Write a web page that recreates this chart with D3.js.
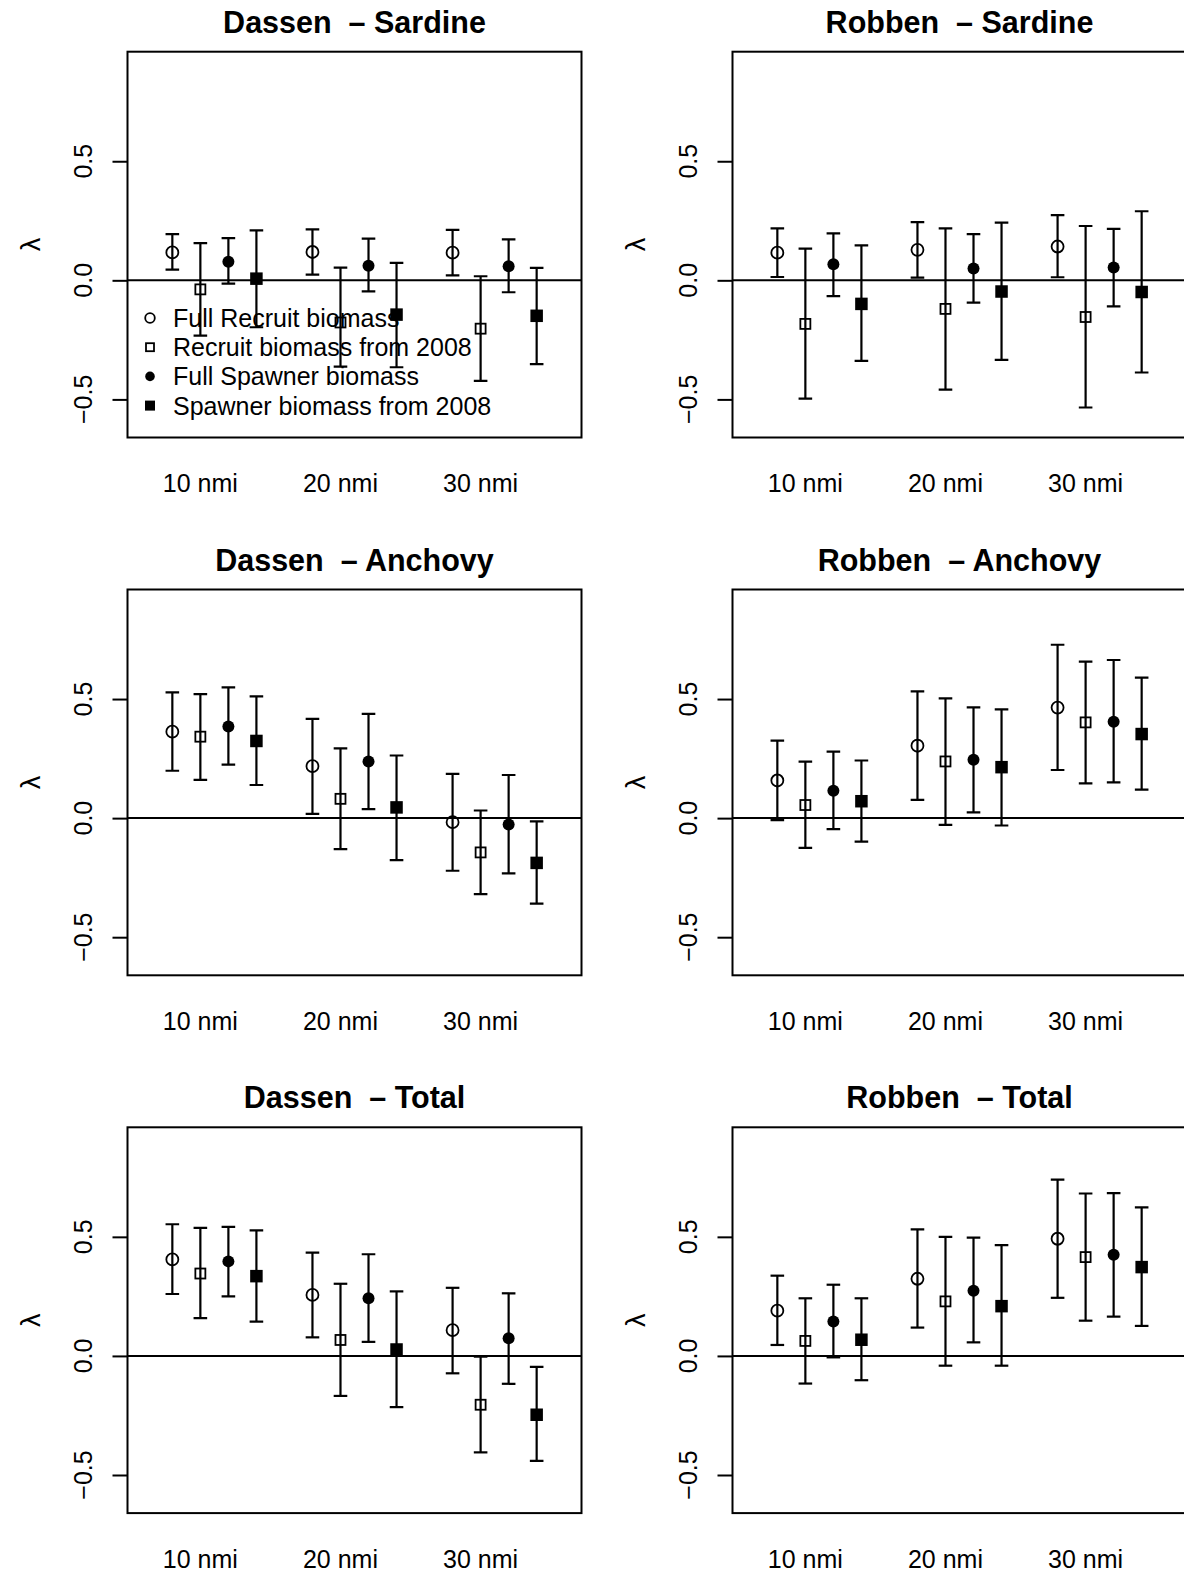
<!DOCTYPE html>
<html>
<head>
<meta charset="utf-8">
<script src="https://cdn.jsdelivr.net/npm/d3@7"></script>
<style>
  html, body { margin: 0; padding: 0; background: #fff; }
  svg { display: block; font-family: "Liberation Sans", Arial, Helvetica, sans-serif; }
  text { white-space: pre; }
</style>
</head>
<body>
<svg id="chart" width="1184" height="1573"></svg>
<script>
// ---------- data ----------
const groupLabels = ["10 nmi", "20 nmi", "30 nmi"];
const seriesNames = ["Full Recruit biomass", "Recruit biomass from 2008", "Full Spawner biomass", "Spawner biomass from 2008"];
const seriesShapes = ["openCircle", "openSquare", "filledCircle", "filledSquare"];
const yTickValues = [-0.5, 0, 0.5];

const panelTitles = ["Dassen  \u2013 Sardine", "Robben  \u2013 Sardine",
                     "Dassen  \u2013 Anchovy", "Robben  \u2013 Anchovy",
                     "Dassen  \u2013 Total", "Robben  \u2013 Total"];

// values ordered: 10 nmi (4 series), 20 nmi (4 series), 30 nmi (4 series)
const dassenSardineEst = [0.117, -0.038, 0.078, 0.007,  0.119, -0.177, 0.061, -0.144,  0.116, -0.203, 0.059, -0.149];
const dassenSardineLo  = [0.045, -0.232, -0.014, -0.197, 0.024, -0.362, -0.046, -0.365, 0.021, -0.422, -0.050, -0.352];
const dassenSardineHi  = [0.194, 0.156, 0.177, 0.210,  0.214, 0.053, 0.175, 0.073,  0.212, 0.017, 0.172, 0.052];

const robbenSardineEst = [0.116, -0.183, 0.067, -0.099,  0.128, -0.120, 0.050, -0.047,  0.142, -0.154, 0.054, -0.049];
const robbenSardineLo  = [0.014, -0.497, -0.066, -0.338, 0.011, -0.459, -0.094, -0.334, 0.013, -0.534, -0.109, -0.387];
const robbenSardineHi  = [0.218, 0.133, 0.197, 0.147,  0.244, 0.218, 0.194, 0.242,  0.274, 0.228, 0.216, 0.290];

const dassenAnchovyEst = [0.363, 0.342, 0.385, 0.324,  0.218, 0.081, 0.238, 0.045,  -0.017, -0.144, -0.027, -0.188];
const dassenAnchovyLo  = [0.199, 0.161, 0.225, 0.139,  0.018, -0.130, 0.038, -0.176, -0.221, -0.319, -0.232, -0.359];
const dassenAnchovyHi  = [0.528, 0.521, 0.549, 0.511,  0.417, 0.293, 0.438, 0.263,  0.186, 0.032, 0.181, -0.014];

const robbenAnchovyEst = [0.158, 0.055, 0.115, 0.071,  0.304, 0.238, 0.245, 0.214,  0.464, 0.402, 0.405, 0.353];
const robbenAnchovyLo  = [-0.008, -0.125, -0.046, -0.099, 0.077, -0.028, 0.024, -0.031, 0.202, 0.146, 0.150, 0.120];
const robbenAnchovyHi  = [0.325, 0.237, 0.279, 0.242,  0.532, 0.503, 0.465, 0.457,  0.728, 0.657, 0.664, 0.590];

const dassenTotalEst = [0.405, 0.346, 0.397, 0.335,  0.256, 0.067, 0.242, 0.027,  0.108, -0.205, 0.074, -0.247];
const dassenTotalLo  = [0.260, 0.159, 0.250, 0.144,  0.078, -0.168, 0.059, -0.215, -0.073, -0.405, -0.117, -0.441];
const dassenTotalHi  = [0.553, 0.538, 0.542, 0.527,  0.434, 0.303, 0.427, 0.271,  0.286, -0.003, 0.263, -0.046];

const robbenTotalEst = [0.190, 0.063, 0.145, 0.068,  0.324, 0.229, 0.274, 0.209,  0.492, 0.415, 0.425, 0.373];
const robbenTotalLo  = [0.046, -0.116, -0.006, -0.102, 0.119, -0.041, 0.057, -0.041, 0.244, 0.148, 0.165, 0.126];
const robbenTotalHi  = [0.337, 0.242, 0.299, 0.242,  0.531, 0.500, 0.497, 0.465,  0.740, 0.682, 0.684, 0.624];

const panelData = [
  [dassenSardineEst, dassenSardineLo, dassenSardineHi],
  [robbenSardineEst, robbenSardineLo, robbenSardineHi],
  [dassenAnchovyEst, dassenAnchovyLo, dassenAnchovyHi],
  [robbenAnchovyEst, robbenAnchovyLo, robbenAnchovyHi],
  [dassenTotalEst, dassenTotalLo, dassenTotalHi],
  [robbenTotalEst, robbenTotalLo, robbenTotalHi]
];

// ---------- layout ----------
const boxW = 454, boxH = 385.8;
const colLeft = [127.5, 732.5];
const rowTop0 = 51.7, rowStep = 537.8;
const baseFont = 25, titleFont = 30.5;
const lw = 2, barW = 2.2;

const svg = d3.select("#chart");
svg.append("rect").attr("width", 1184).attr("height", 1573).attr("fill", "#fff");

const x = d3.scaleLinear().domain([-0.6, 15.6]).range([0, boxW]);
const y = d3.scaleLinear().domain([-0.66, 0.96]).range([boxH, 0]);
const xPos = (g, s) => g * 5 + s + 1;

function drawMarker(sel, shape, cx, cy, scale) {
  const k = scale || 1;
  if (shape === "openCircle") {
    sel.append("circle").attr("cx", cx).attr("cy", cy).attr("r", 6 * k)
      .attr("fill", "none").attr("stroke", "#000").attr("stroke-width", 1.8);
  } else if (shape === "filledCircle") {
    sel.append("circle").attr("cx", cx).attr("cy", cy).attr("r", 6 * k).attr("fill", "#000");
  } else if (shape === "openSquare") {
    const s = 10 * k;
    sel.append("rect").attr("x", cx - s / 2).attr("y", cy - s / 2).attr("width", s).attr("height", s)
      .attr("fill", "none").attr("stroke", "#000").attr("stroke-width", 1.8);
  } else {
    const s = 12.5 * k;
    sel.append("rect").attr("x", cx - s / 2).attr("y", cy - s / 2).attr("width", s).attr("height", s).attr("fill", "#000");
  }
}

panelData.forEach((pd, i) => {
  const col = i % 2, row = Math.floor(i / 2);
  const g = svg.append("g").attr("transform", `translate(${colLeft[col]},${rowTop0 + row * rowStep})`);
  const [est, lo, hi] = pd;

  // title
  g.append("text").attr("x", boxW / 2).attr("y", -19).attr("text-anchor", "middle")
    .attr("font-size", titleFont).attr("font-weight", "bold").text(panelTitles[i]);

  // y axis ticks
  const yAxis = d3.axisLeft(y).tickValues(yTickValues).tickSize(15).tickFormat("");
  const ya = g.append("g").call(yAxis);
  ya.select(".domain").remove();
  ya.selectAll(".tick line").attr("stroke", "#000").attr("stroke-width", lw);
  // rotated tick labels
  g.selectAll(".ylab").data(yTickValues).enter().append("text")
    .attr("transform", d => `translate(-35.8,${y(d)}) rotate(-90)`)
    .attr("text-anchor", "middle").attr("font-size", baseFont)
    .text(d => d3.format(".1f")(d));

  // y axis title
  g.append("text").attr("transform", `translate(-97,${boxH / 2}) rotate(-90)`)
    .attr("text-anchor", "middle").attr("dominant-baseline", "central")
    .attr("font-size", 27).text("\u03bb");

  // x labels
  g.selectAll(".xlab").data(groupLabels).enter().append("text")
    .attr("x", (d, k) => x(k * 5 + 2)).attr("y", 440.3).attr("text-anchor", "middle")
    .attr("font-size", baseFont).text(d => d);

  // clip for plot area
  const clipId = "clip" + i;
  g.append("clipPath").attr("id", clipId).append("rect").attr("width", boxW).attr("height", boxH);
  const plot = g.append("g").attr("clip-path", `url(#${clipId})`);

  // zero line
  plot.append("line").attr("x1", 0).attr("x2", boxW).attr("y1", y(0)).attr("y2", y(0))
    .attr("stroke", "#000").attr("stroke-width", lw);

  // legend (first panel only)
  if (i === 0) {
    const lg = g.append("g");
    seriesNames.forEach((name, s) => {
      const cy = 266.3 + s * 29.2;
      drawMarker(lg, seriesShapes[s], 22.5, cy, 0.8);
      lg.append("text").attr("x", 45.5).attr("y", cy).attr("dominant-baseline", "central")
        .attr("font-size", baseFont).text(name);
    });
  }

  // error bars and points
  for (let gi = 0; gi < 3; gi++) {
    for (let s = 0; s < 4; s++) {
      const idx = gi * 4 + s;
      const px = x(xPos(gi, s));
      plot.append("line").attr("x1", px).attr("x2", px).attr("y1", y(lo[idx])).attr("y2", y(hi[idx]))
        .attr("stroke", "#000").attr("stroke-width", barW);
      [lo[idx], hi[idx]].forEach(v => {
        plot.append("line").attr("x1", px - 6.8).attr("x2", px + 6.8).attr("y1", y(v)).attr("y2", y(v))
          .attr("stroke", "#000").attr("stroke-width", barW);
      });
      drawMarker(plot, seriesShapes[s], px, y(est[idx]), 1);
    }
  }

  // box
  g.append("rect").attr("width", boxW).attr("height", boxH).attr("fill", "none")
    .attr("stroke", "#000").attr("stroke-width", lw);
});
</script>
</body>
</html>
